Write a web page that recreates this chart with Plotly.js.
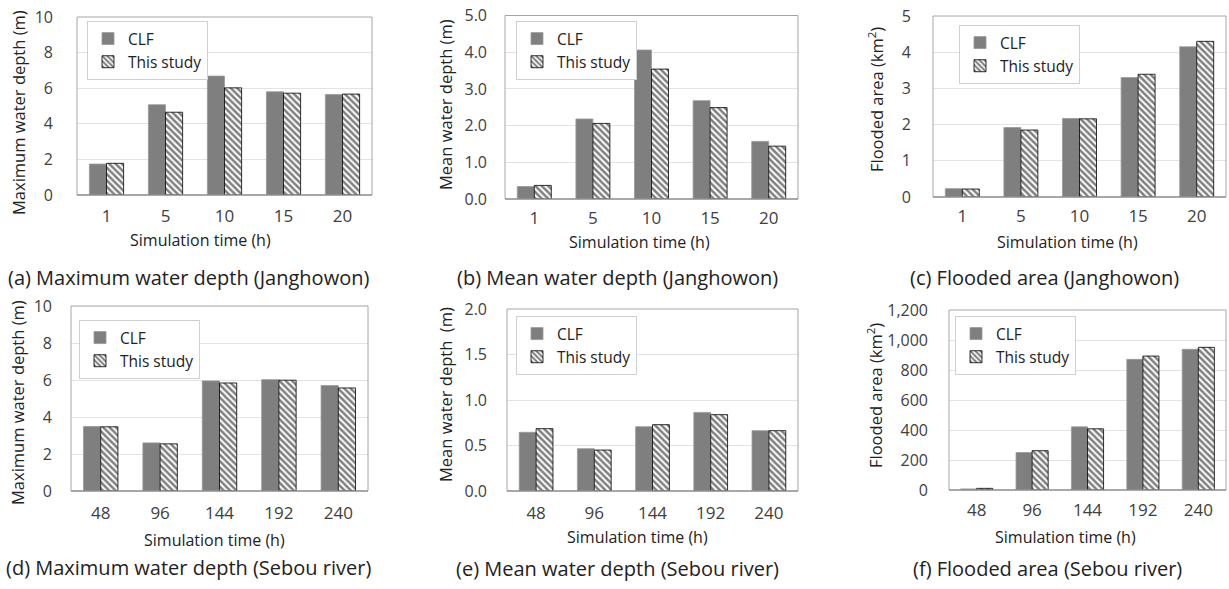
<!DOCTYPE html>
<html>
<head>
<meta charset="utf-8">
<script src="https://cdn.plot.ly/plotly-3.0.1.min.js"></script>
<style>html,body{margin:0;padding:0;background:#fff;}#chart{width:1229px;height:589px;}</style>
</head>
<body>
<div id="chart"></div>
<script>
// ---- data ----
const catsJanghowon = ['1', '5', '10', '15', '20'];
const catsSebou = ['48', '96', '144', '192', '240'];
const seriesNames = ['CLF', 'This study'];

const clfMaxJ = [1.74, 5.07, 6.68, 5.80, 5.65];
const tsMaxJ = [1.78, 4.65, 6.02, 5.72, 5.67];
const clfMeanJ = [0.34, 2.18, 4.06, 2.68, 1.57];
const tsMeanJ = [0.37, 2.06, 3.54, 2.49, 1.44];
const clfAreaJ = [0.23, 1.92, 2.17, 3.30, 4.15];
const tsAreaJ = [0.22, 1.85, 2.16, 3.39, 4.30];
const clfMaxS = [3.49, 2.60, 5.95, 6.02, 5.70];
const tsMaxS = [3.47, 2.55, 5.84, 5.99, 5.57];
const clfMeanS = [0.645, 0.465, 0.707, 0.864, 0.663];
const tsMeanS = [0.685, 0.450, 0.729, 0.839, 0.663];
const clfAreaS = [7, 250, 421, 871, 938];
const tsAreaS = [11, 262, 408, 893, 951];

const xTitle = 'Simulation time (h)';
const yTitles = ['Maximum water depth (m)', 'Mean water depth (m)', 'Flooded area (km<sup>2</sup>)',
                 'Maximum water depth (m)', 'Mean water depth  (m)', 'Flooded area (km<sup>2</sup>)'];
const captions = ['(a) Maximum water depth (Janghowon)', '(b) Mean water depth (Janghowon)', '(c) Flooded area (Janghowon)',
                  '(d) Maximum water depth (Sebou river)', '(e) Mean water depth (Sebou river)', '(f) Flooded area (Sebou river)'];

// ---- layout geometry (pixels) ----
const W = 1229, H = 589;
const FONT = '"Open Sans", "Noto Sans", sans-serif';
const panels = [
  {cats: catsJanghowon, clf: clfMaxJ, ts: tsMaxJ, x0: 77, x1: 372, y0: 17, y1: 195, range: [0, 10], dtick: 2, fmt: 'd',
   leg: [87, 21], yt: [18, 113], xt: [200, 240], cap: [188, 277], ysd: 23, xsd: 9},
  {cats: catsJanghowon, clf: clfMeanJ, ts: tsMeanJ, x0: 505, x1: 798, y0: 15.5, y1: 199, range: [0, 5], dtick: 1, fmt: '.1f',
   leg: [516, 21], yt: [445, 105], xt: [639, 242], cap: [617, 277], ysd: 17, xsd: 7},
  {cats: catsJanghowon, clf: clfAreaJ, ts: tsAreaJ, x0: 933, x1: 1226, y0: 16, y1: 197, range: [0, 5], dtick: 1, fmt: 'd',
   leg: [959, 25], yt: [876, 100], xt: [1067, 242], cap: [1044, 277], ysd: 21, xsd: 7},
  {cats: catsSebou, clf: clfMaxS, ts: tsMaxS, x0: 71, x1: 368, y0: 306, y1: 491, range: [0, 10], dtick: 2, fmt: 'd',
   leg: [79, 320], yt: [17, 403], xt: [214, 540], cap: [188, 567], ysd: 18, xsd: 10},
  {cats: catsSebou, clf: clfMeanS, ts: tsMeanS, x0: 507, x1: 798, y0: 309, y1: 491, range: [0, 2], dtick: 0.5, fmt: '.1f',
   leg: [516, 316], yt: [445, 395], xt: [637, 537], cap: [617, 568], ysd: 19, xsd: 10},
  {cats: catsSebou, clf: clfAreaS, ts: tsAreaS, x0: 949, x1: 1226, y0: 310, y1: 490, range: [0, 1200], dtick: 200, fmt: ',d',
   leg: [955, 316], yt: [875, 395], xt: [1065, 537], cap: [1047, 568], ysd: 20, xsd: 8}
];

const traces = [];
const layout = {
  width: W, height: H,
  margin: {l: 0, r: 0, t: 0, b: 0},
  paper_bgcolor: '#fff', plot_bgcolor: '#fff',
  font: {family: FONT, color: '#404040', size: 15},
  barmode: 'group', bargap: 0.42, bargroupgap: 0,
  annotations: [], shapes: []
};

panels.forEach((p, i) => {
  const n = i === 0 ? '' : String(i + 1);
  const legName = 'legend' + n;
  traces.push({
    type: 'bar', name: seriesNames[0], x: p.cats, y: p.clf,
    xaxis: 'x' + n, yaxis: 'y' + n, legend: legName,
    marker: {color: '#7f7f7f', line: {color: '#999999', width: 0.8}},
    hoverinfo: 'skip'
  });
  traces.push({
    type: 'bar', name: seriesNames[1], x: p.cats, y: p.ts,
    xaxis: 'x' + n, yaxis: 'y' + n, legend: legName,
    marker: {color: '#ffffff', line: {color: '#000000', width: 0.8},
             pattern: {shape: '\\', size: 4.5, solidity: 0.55, fgcolor: '#000000', bgcolor: '#ffffff', fillmode: 'overlay'}},
    hoverinfo: 'skip'
  });
  layout['xaxis' + n] = {
    domain: [p.x0 / W, p.x1 / W], anchor: 'y' + n, type: 'category',
    showline: false, ticks: '', ticklabelstandoff: p.xsd, tickfont: {size: 17, color: '#404040'},
    showgrid: false, fixedrange: true
  };
  layout['yaxis' + n] = {
    domain: [1 - p.y1 / H, 1 - p.y0 / H], anchor: 'x' + n,
    range: p.range, dtick: p.dtick, tick0: 0, tickformat: p.fmt,
    showline: false, zeroline: false,
    showgrid: true, gridcolor: '#e3e3e3', gridwidth: 1,
    ticks: '', ticklabelstandoff: p.ysd, tickfont: {size: 16, color: '#404040'},
    fixedrange: true
  };
  // frame (plot area border)
  layout.shapes.push({type: 'rect', xref: 'x' + n + ' domain', yref: 'y' + n + ' domain', x0: 0, x1: 1, y0: 0, y1: 1,
                      line: {color: '#a6a6a6', width: 1}, fillcolor: 'rgba(0,0,0,0)', layer: 'above'});
  layout.shapes.push({type: 'line', xref: 'x' + n + ' domain', yref: 'y' + n + ' domain', x0: 0, x1: 1, y0: 0, y1: 0,
                      line: {color: '#7f7f7f', width: 1.2}, layer: 'above'});
  layout[legName] = {
    x: p.leg[0] / W, y: 1 - p.leg[1] / H, xanchor: 'left', yanchor: 'top',
    bgcolor: '#ffffff', bordercolor: '#d0d0d0', borderwidth: 1,
    font: {size: 15.5, color: '#222', family: FONT}, itemwidth: 30, tracegroupgap: 0, traceorder: 'normal'
  };
  layout.annotations.push({text: yTitles[i], xref: 'paper', yref: 'paper', x: p.yt[0] / W, y: 1 - p.yt[1] / H,
    xanchor: 'center', yanchor: 'middle', textangle: -90, showarrow: false, font: {size: 16.5, color: '#222'}});
  layout.annotations.push({text: xTitle, xref: 'paper', yref: 'paper', x: p.xt[0] / W, y: 1 - p.xt[1] / H,
    xanchor: 'center', yanchor: 'middle', showarrow: false, font: {size: 16, color: '#222'}});
  layout.annotations.push({text: captions[i], xref: 'paper', yref: 'paper', x: p.cap[0] / W, y: 1 - p.cap[1] / H,
    xanchor: 'center', yanchor: 'middle', showarrow: false, font: {size: 20, color: '#222'}});
});

Plotly.newPlot('chart', traces, layout, {displayModeBar: false, staticPlot: true});
</script>
</body>
</html>
